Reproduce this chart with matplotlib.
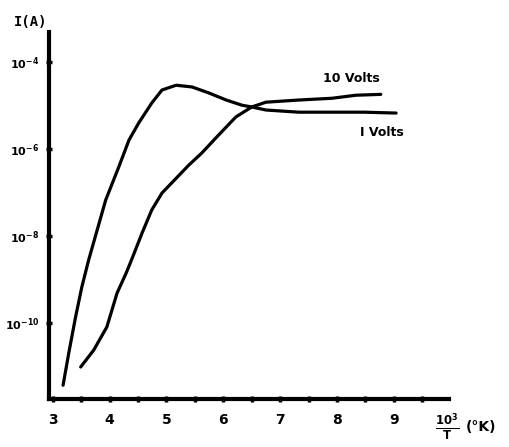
import numpy as np
import matplotlib
matplotlib.use("Agg")
import matplotlib.pyplot as plt

# values: x = 10^3/T, y = log10(I)
x_1v = [3.18, 3.28, 3.40, 3.51, 3.63, 3.93, 4.16, 4.34, 4.51, 4.74, 4.92,
        5.17, 5.45, 5.75, 6.05, 6.33, 6.50, 6.75, 7.33, 7.91, 8.48, 9.04]
logi_1v = [-11.43, -10.69, -9.86, -9.17, -8.55, -7.17, -6.41, -5.79, -5.40,
           -4.94, -4.64, -4.53, -4.57, -4.71, -4.87, -4.99, -5.03, -5.10,
           -5.15, -5.15, -5.15, -5.17]

x_10v = [3.49, 3.72, 3.95, 4.13, 4.29, 4.39, 4.57, 4.74, 4.92, 5.17, 5.39,
         5.62, 5.87, 6.22, 6.50, 6.75, 7.33, 7.91, 8.33, 8.77]
logi_10v = [-11.01, -10.62, -10.09, -9.31, -8.85, -8.53, -7.93, -7.40, -7.01,
            -6.67, -6.37, -6.09, -5.74, -5.26, -5.03, -4.92, -4.87, -4.83,
            -4.76, -4.74]

x_ticks = [3, 4, 5, 6, 7, 8, 9]
y_exps = [-4, -6, -8, -10]

fig = plt.figure(figsize=(5.09, 4.47), dpi=100)
ax = fig.add_axes([0.096, 0.107, 0.786, 0.821])

ax.semilogy(x_1v, 10.0 ** np.array(logi_1v), color="black", lw=2.3,
            solid_capstyle="round", solid_joinstyle="round")
ax.semilogy(x_10v, 10.0 ** np.array(logi_10v), color="black", lw=2.3,
            solid_capstyle="round", solid_joinstyle="round")

ax.set_xlim(2.93, 9.97)
ax.set_ylim(10 ** -11.75, 10 ** -3.31)

for side in ("top", "right"):
    ax.spines[side].set_visible(False)
for side in ("left", "bottom"):
    ax.spines[side].set_linewidth(3)

ax.set_xticks(x_ticks)
ax.set_xticklabels([str(v) for v in x_ticks], fontsize=10, fontweight="bold")
ax.set_xticks(np.arange(3.5, 9.6, 1.0), minor=True)
ax.set_yticks([10.0 ** e for e in y_exps])
ax.set_yticklabels([r"$\mathbf{10^{%d}}$" % e for e in y_exps], fontsize=8)
ax.yaxis.set_minor_locator(matplotlib.ticker.NullLocator())
ax.tick_params(axis="both", which="both", direction="inout", length=4,
               width=2.5)
ax.tick_params(axis="x", pad=8)
ax.tick_params(axis="y", pad=5)

ax.text(8.26, 10 ** -4.37, "10 Volts", fontsize=9, fontweight="bold",
        ha="center", va="center")
ax.text(8.79, 10 ** -5.61, "I Volts", fontsize=9, fontweight="bold",
        ha="center", va="center")

fig.text(0.027, 0.95, "I(A)", fontsize=10, fontweight="bold",
         family="DejaVu Sans Mono", va="center")
fig.text(0.855, 0.045, r"$\mathbf{\frac{10^3}{T}}$", fontsize=12,
         ha="left", va="center")
fig.text(0.915, 0.045, "(°K)", fontsize=10, fontweight="bold",
         ha="left", va="center")

fig.savefig("out.png", dpi=100)
